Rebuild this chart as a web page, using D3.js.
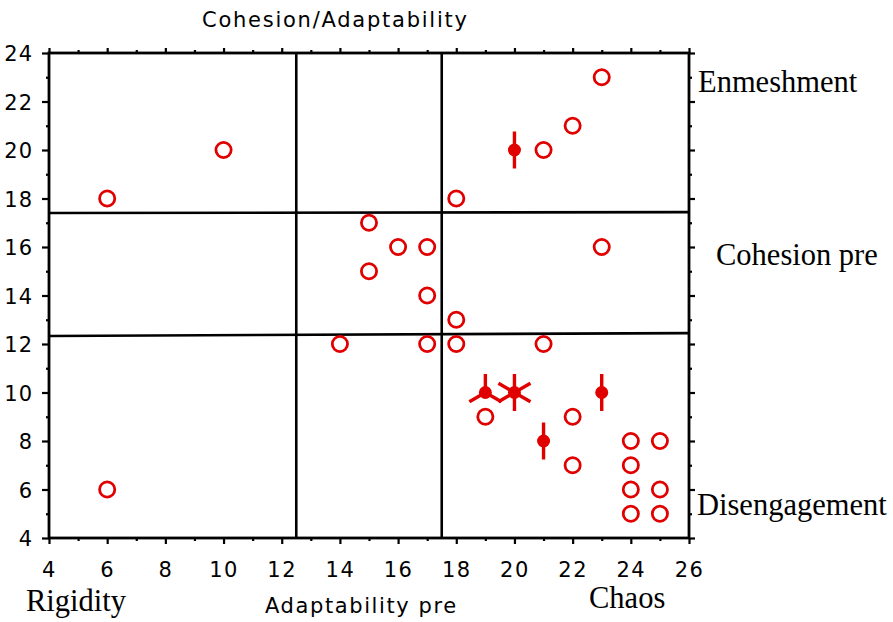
<!DOCTYPE html>
<html><head><meta charset="utf-8">
<script src="https://cdn.jsdelivr.net/npm/d3@7"></script>
<style>
html,body{margin:0;padding:0;background:#fff;}
svg{display:block;}
</style></head>
<body>
<svg id="chart" width="893" height="622"></svg>
<script>
// ---- data ----
const xTicks = [4,6,8,10,12,14,16,18,20,22,24,26];
const yTicks = [4,6,8,10,12,14,16,18,20,22,24];
const openX = [6,10,23,22,21,18,15,16,17,23,15,17,18,14,17,18,21,19,22,22,24,25,24,24,25,24,25,6];
const openY = [18,20,23,21,20,18,17,16,16,16,15,14,13,12,12,12,12,9,9,7,8,8,7,6,6,5,5,6];
const sunX = [20,19,20,21,23];
const sunY = [20,10,10,8,10];
const sunN = [2,3,6,2,2];
const vLineX = [12.5,17.5];
const hLineLeftY = [12.33,17.40];
const hLineRightY = [12.45,17.44];
const titleTop = "Cohesion/Adaptability";
const titleBottom = "Adaptability pre";
const rightLabels = ["Enmeshment","Cohesion pre","Disengagement"];
const bottomLabels = ["Rigidity","Chaos"];

// ---- layout ----
const svg = d3.select("#chart");
const L = 49, R = 689, T = 53, B = 538;
const x = d3.scaleLinear().domain([4,26]).range([L,R]);
const y = d3.scaleLinear().domain([4,24]).range([B,T]);
const red = "#e00000";
const sansFont = "'DejaVu Sans', Verdana, sans-serif";
const serifFont = "'Liberation Serif', 'Times New Roman', serif";

// quadrant lines
const g = svg.append("g");
g.selectAll("line.v").data(vLineX).enter().append("line")
  .attr("x1", d=>x(d)).attr("x2", d=>x(d)).attr("y1", y(24)).attr("y2", y(4))
  .attr("stroke","#000").attr("stroke-width",2.6);
g.selectAll("line.h").data(hLineLeftY).enter().append("line")
  .attr("x1", x(4)).attr("x2", x(26))
  .attr("y1", d=>y(d)).attr("y2", (d,i)=>y(hLineRightY[i]))
  .attr("stroke","#000").attr("stroke-width",2.6);

// axes
const minorX = d3.range(5,26,2);
const minorY = d3.range(5,24,2);
function styleAxis(sel){
  sel.select(".domain").remove();
  sel.selectAll(".tick line").attr("stroke","#000").attr("stroke-width",2.2);
  sel.selectAll(".tick text").attr("font-family",sansFont).attr("font-size",21)
     .attr("letter-spacing","1.5px").attr("fill","#000");
}
const xb = svg.append("g").attr("transform",`translate(0,${B})`)
  .call(d3.axisBottom(x).tickValues(xTicks).tickFormat(d3.format("d")).tickSize(6).tickPadding(20));
styleAxis(xb);
xb.selectAll(".tick text").attr("dy","0").attr("y",39);
svg.append("g").attr("transform",`translate(0,${B})`)
  .call(d3.axisBottom(x).tickValues(minorX).tickFormat("").tickSize(3)).call(styleAxis);
const xt = svg.append("g").attr("transform",`translate(0,${T})`)
  .call(d3.axisTop(x).tickValues(xTicks).tickFormat("").tickSize(5));
styleAxis(xt);
svg.append("g").attr("transform",`translate(0,${T})`)
  .call(d3.axisTop(x).tickValues(minorX).tickFormat("").tickSize(3)).call(styleAxis);
const yl = svg.append("g").attr("transform",`translate(${L},0)`)
  .call(d3.axisLeft(y).tickValues(yTicks).tickFormat(d3.format("d")).tickSize(7).tickPadding(9));
styleAxis(yl);
yl.selectAll(".tick text").attr("dy","0.36em").attr("letter-spacing","1px");
svg.append("g").attr("transform",`translate(${L},0)`)
  .call(d3.axisLeft(y).tickValues(minorY).tickFormat("").tickSize(3)).call(styleAxis);
svg.append("g").attr("transform",`translate(${R},0)`)
  .call(d3.axisRight(y).tickValues(yTicks).tickFormat("").tickSize(6)).call(styleAxis);
svg.append("g").attr("transform",`translate(${R},0)`)
  .call(d3.axisRight(y).tickValues(minorY).tickFormat("").tickSize(3)).call(styleAxis);

// frame
svg.append("rect").attr("x",L).attr("y",T).attr("width",R-L).attr("height",B-T)
  .attr("fill","none").attr("stroke","#000").attr("stroke-width",2.8);

// open circles
svg.append("g").selectAll("circle").data(openX).enter().append("circle")
  .attr("cx", d=>x(d)).attr("cy", (d,i)=>y(openY[i])).attr("r",7.6)
  .attr("fill","none").attr("stroke",red).attr("stroke-width",2.8);

// sunflowers
const petalLen = 18.5;
const sg = svg.append("g");
sunX.forEach((sx,i)=>{
  const cx = x(sx), cy = y(sunY[i]), n = sunN[i];
  for(let k=0;k<n;k++){
    const a = Math.PI/2 + k*2*Math.PI/n;
    sg.append("line").attr("x1",cx).attr("y1",cy)
      .attr("x2",cx+petalLen*Math.cos(a)).attr("y2",cy-petalLen*Math.sin(a))
      .attr("stroke",red).attr("stroke-width",3.4);
  }
  sg.append("circle").attr("cx",cx).attr("cy",cy).attr("r",6.5).attr("fill",red);
});

// titles
svg.append("text").attr("x",202).attr("y",27).text(titleTop)
  .attr("font-family",sansFont).attr("font-size",21).attr("letter-spacing","1.75px").attr("fill","#000");
svg.append("text").attr("x",265).attr("y",613).text(titleBottom)
  .attr("font-family",sansFont).attr("font-size",21).attr("letter-spacing","1.6px").attr("fill","#000");

const rl = [[698,92],[716,265],[697,515]];
rightLabels.forEach((t,i)=>{
  svg.append("text").attr("x",rl[i][0]).attr("y",rl[i][1]).text(t)
    .attr("font-family",serifFont).attr("font-size",30.5).attr("fill","#000");
});
const bl = [[26,611],[589,608]];
bottomLabels.forEach((t,i)=>{
  svg.append("text").attr("x",bl[i][0]).attr("y",bl[i][1]).text(t)
    .attr("font-family",serifFont).attr("font-size",30.5).attr("fill","#000");
});
</script>
</body></html>
